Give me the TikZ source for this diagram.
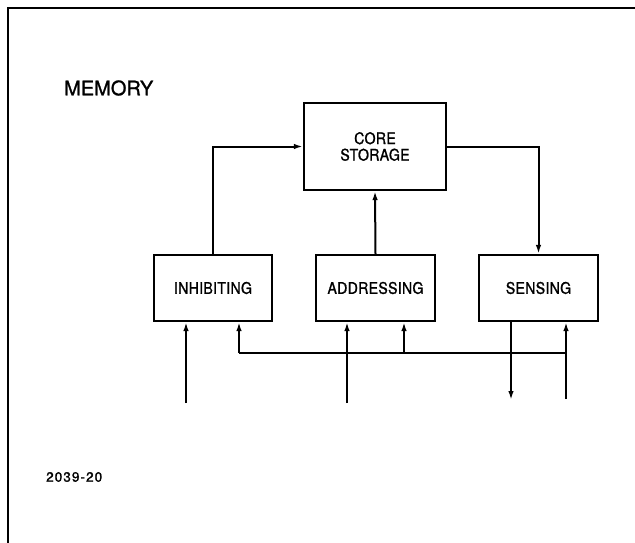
\documentclass[tikz,border=0pt]{standalone}
\usepackage{fontspec}
\setmainfont{TeX Gyre Heros}
\newfontfamily\boxfont[FakeBold=1.2,FakeStretch=0.88,LetterSpace=2]{TeX Gyre Heros}
\newfontfamily\plainlet[FakeBold=1.2]{TeX Gyre Heros}
\newfontfamily\numfont[FakeBold=1.5,LetterSpace=8]{TeX Gyre Heros}
\usetikzlibrary{arrows.meta}
\begin{document}
\begin{tikzpicture}[x=1pt,y=-1pt,
  blk/.style={draw,line width=2.2pt,rectangle,inner sep=0pt,
    minimum height=66pt,font=\boxfont\fontsize{16}{16.5}\selectfont,align=center},
  conn/.style={line width=2pt},
  arr/.style={line width=2pt,-{Latex[length=9pt,width=5.5pt]}},
  lbl/.style={inner sep=0pt,anchor=west}]
\useasboundingbox (0,0) rectangle (635,543);
\fill[white] (0,0) rectangle (635,543);
\draw[line width=2.2pt] (8,543) -- (8,8) -- (635,8);
\node[lbl,font=\plainlet\fontsize{20}{22}\selectfont] (mem) at (64,88) {MEMORY};
\node[lbl,font=\numfont\fontsize{13.5}{15}\selectfont] (num) at (46,477) {2039-20};
\node[blk,minimum width=142pt,minimum height=87pt] (core) at (375,146.5) {CORE\\STORAGE};
\node[blk,minimum width=118pt] (inh) at (213,288) {INHIBITING};
\node[blk,minimum width=119pt] (addr) at (375.5,288) {ADDRESSING};
\node[blk,minimum width=119pt] (sens) at (538.5,288) {SENSING};
\draw[arr] (inh.north) |- (core.west);
\draw[arr] (core.east) -| (sens.north);
\draw[arr] (addr.north) -- (core.south);
\coordinate (i1) at (186,403);
\coordinate (a1) at (347,403);
\coordinate (so) at (511,400);
\coordinate (si) at (566,399);
\coordinate (b1) at (239,353);
\coordinate (b3) at (404,353);
\coordinate (b2) at (566,353);
\draw[arr] (i1) -- (i1 |- inh.south);
\draw[arr] (a1) -- (a1 |- addr.south);
\draw[conn] (b1) -- (b2);
\draw[arr] (b1) -- (b1 |- inh.south);
\draw[arr] (b3) -- (b3 |- addr.south);
\draw[arr] (so |- sens.south) -- (so);
\draw[arr] (si) -- (si |- sens.south);
\end{tikzpicture}
\end{document}
